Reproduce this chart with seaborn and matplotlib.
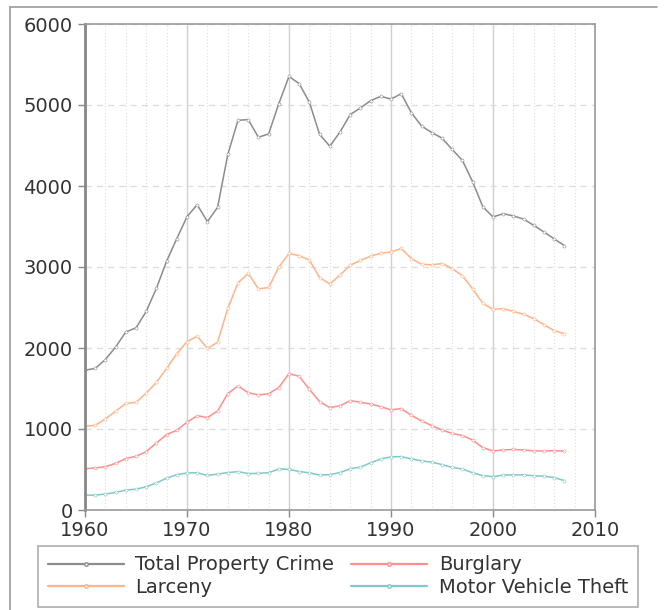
import numpy as np
import pandas as pd
import matplotlib
matplotlib.use("Agg")
import matplotlib.pyplot as plt
from matplotlib.lines import Line2D
import seaborn as sns

years = list(range(1960, 2008))
total = [1726, 1748, 1858, 2012, 2198, 2249, 2451, 2737, 3072, 3351,
         3621, 3769, 3560, 3737, 4389, 4811, 4820, 4602, 4643, 5017,
         5353, 5264, 5033, 4637, 4492, 4666, 4882, 4963, 5054, 5107,
         5073, 5140, 4904, 4740, 4660, 4591, 4451, 4316, 4053, 3744,
         3618, 3658, 3631, 3591, 3514, 3432, 3347, 3264]
burglary = [509, 519, 535, 576, 635, 663, 721, 827, 932, 984,
            1085, 1164, 1141, 1223, 1438, 1532, 1448, 1420, 1435, 1512,
            1684, 1650, 1489, 1338, 1264, 1287, 1350, 1330, 1309, 1276,
            1236, 1252, 1168, 1100, 1042, 987, 945, 919, 863, 770,
            729, 742, 747, 741, 730, 727, 733, 726]
larceny = [1035, 1045, 1125, 1219, 1316, 1329, 1443, 1576, 1747, 1931,
           2079, 2146, 1994, 2072, 2490, 2805, 2921, 2730, 2747, 2999,
           3167, 3140, 3085, 2869, 2791, 2901, 3022, 3081, 3135, 3171,
           3185, 3229, 3104, 3034, 3027, 3043, 2980, 2892, 2730, 2551,
           2477, 2486, 2451, 2417, 2362, 2288, 2213, 2178]
mvt = [183, 184, 197, 217, 247, 257, 287, 334, 393, 436,
       457, 460, 426, 443, 462, 474, 450, 452, 461, 506,
       502, 475, 459, 431, 437, 462, 510, 529, 583, 630,
       656, 659, 632, 606, 591, 560, 526, 506, 460, 423,
       412, 431, 433, 434, 422, 417, 400, 363]

series_names = ["Total Property Crime", "Burglary", "Larceny", "Motor Vehicle Theft"]
series_vals = [total, burglary, larceny, mvt]
colors = {"Total Property Crime": "#8c8c8c", "Burglary": "#ff8f8f",
          "Larceny": "#ffb488", "Motor Vehicle Theft": "#7fc9c6"}

df = pd.concat([pd.DataFrame({"Year": years, "Rate": v, "Series": n})
                for n, v in zip(series_names, series_vals)], ignore_index=True)

sns.set_theme(style="white")
plt.rcParams['font.family'] = ['DejaVu Sans']

fig = plt.figure(figsize=(6.66, 6.10), dpi=100)
ax = fig.add_axes([85/666, 1-510/610, 510/666, 486/610])

sns.lineplot(data=df, x="Year", y="Rate", hue="Series", palette=colors,
             hue_order=series_names, ax=ax, linewidth=1.1, marker="o",
             markersize=2.2, markeredgewidth=0.4, markerfacecolor="white",
             legend=False)
for ln in ax.lines:
    ln.set_markeredgecolor(ln.get_color())

ax.set_xlim(1960, 2010)
ax.set_ylim(0, 6000)
ax.set_xticks(range(1960, 2011, 10))
ax.set_xticks(range(1960, 2011, 2), minor=True)
ax.set_yticks(range(0, 6001, 1000))
ax.set_xlabel("")
ax.set_ylabel("")

ax.grid(False)
ax.yaxis.grid(True, which="major", linestyle=(0, (5, 4)), color="#dcdcdc", linewidth=0.9)
ax.xaxis.grid(True, which="major", linestyle="-", color="#cfcfcf", linewidth=1.0)
ax.xaxis.grid(True, which="minor", linestyle=(0, (1, 2)), color="#dedede", linewidth=0.8)
ax.set_axisbelow(True)

for side in ["top", "right", "bottom"]:
    ax.spines[side].set_color("#999999")
    ax.spines[side].set_linewidth(1.2)
ax.spines["left"].set_color("#888888")
ax.spines["left"].set_linewidth(2.0)

ax.tick_params(axis="both", which="major", direction="out", length=5, width=1,
               color="#888888", labelsize=14, labelcolor="#333333")
ax.tick_params(axis="x", which="major", pad=3)
ax.tick_params(axis="y", which="major", pad=4)
ax.tick_params(axis="x", which="minor", length=0)
ax.tick_params(axis="both", bottom=True, left=True)

handles = [Line2D([], [], color=colors[n], linewidth=1.6, marker="o", markersize=2.5,
                  markerfacecolor="white", markeredgecolor=colors[n]) for n in series_names]
order = [0, 2, 1, 3]
leg = fig.legend([handles[i] for i in order], [series_names[i] for i in order],
                 loc="lower left", bbox_to_anchor=(38/666, 3/610, 600/666, 62/610),
                 mode="expand", ncol=2, fontsize=14, frameon=True, fancybox=False,
                 borderaxespad=0, handlelength=3.9, borderpad=0.5, labelspacing=0.2,
                 columnspacing=1.0, handletextpad=0.6)
leg.get_frame().set_edgecolor("#999999")
leg.get_frame().set_linewidth(1.2)
for t in leg.get_texts():
    t.set_color("#333333")

# outer frame (image border)
fig.add_artist(Line2D([10/666, 10/666], [0, 1-7/610], transform=fig.transFigure,
                      color="#999999", linewidth=1.2))
fig.add_artist(Line2D([10/666, 657/666], [1-7/610, 1-7/610], transform=fig.transFigure,
                      color="#999999", linewidth=1.2))

fig.savefig("out.png", dpi=100)
